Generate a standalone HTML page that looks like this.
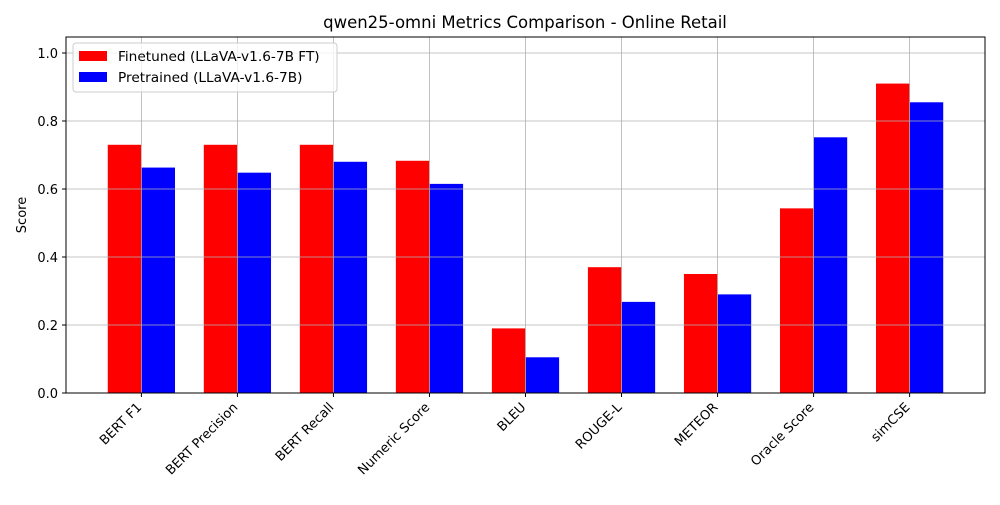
<!DOCTYPE html>
<html><head><meta charset="utf-8"><style>
body{margin:0;background:#fff;font-family:"Liberation Sans","DejaVu Sans",sans-serif}
</style></head><body>
<svg id="chart" width="1000" height="500" xmlns="http://www.w3.org/2000/svg" font-family="DejaVu Sans, Liberation Sans, sans-serif">
<rect width="1000" height="500" fill="#fff"/>
<text x="525" y="28" text-anchor="middle" font-size="16.5">qwen25-omni Metrics Comparison - Online Retail</text>
<text transform="translate(26,215) rotate(-90)" text-anchor="middle" font-size="13">Score</text>
<g id="grid"></g><g id="bars"></g><g id="axes"></g>
<rect x="66" y="37" width="919" height="356" fill="none" stroke="#000" stroke-width="1"/>
<g>
<rect x="73" y="43" width="264" height="49" rx="3" fill="#fff" fill-opacity="0.8" stroke="#ccc"/>
<rect x="79" y="51" width="28" height="10" fill="#ff0000"/>
<text x="118" y="61" font-size="13.7">Finetuned (LLaVA-v1.6-7B FT)</text>
<rect x="79" y="72" width="28" height="10" fill="#0000ff"/>
<text x="118" y="82" font-size="13.7">Pretrained (LLaVA-v1.6-7B)</text>
</g>
</svg>
<script>
const categories=["BERT F1","BERT Precision","BERT Recall","Numeric Score","BLEU","ROUGE-L","METEOR","Oracle Score","simCSE"];
const finetuned=[0.73,0.73,0.73,0.683,0.19,0.37,0.35,0.543,0.91];
const pretrained=[0.663,0.648,0.68,0.615,0.105,0.268,0.29,0.752,0.855];
const yTicks=[0,0.2,0.4,0.6,0.8,1.0];
const yTickLabels=["0.0","0.2","0.4","0.6","0.8","1.0"];
const NS="http://www.w3.org/2000/svg";
const L=66,R=985,T=37,B=393,yMax=1.047,xMin=-0.785,xMax=8.785;
const y=v=>B-(v/yMax)*(B-T);
const x=i=>L+(i-xMin)/(xMax-xMin)*(R-L);
const bw=0.35*(R-L)/(xMax-xMin);
function mk(tag,attrs,parent){const e=document.createElementNS(NS,tag);for(const k in attrs)e.setAttribute(k,attrs[k]);document.getElementById(parent).appendChild(e);return e;}
const grid=document.getElementById('grid');
categories.forEach((c,i)=>{
 const r=mk('rect',{x:x(i)-bw,y:y(finetuned[i]),width:bw,height:B-y(finetuned[i]),fill:'#ff0000'},'bars');
 
 
 const b=mk('rect',{x:x(i),y:y(pretrained[i]),width:bw,height:B-y(pretrained[i]),fill:'#0000ff'},'bars');
 
 
});
document.getElementById('chart').insertBefore(document.getElementById('bars'),grid);
categories.forEach((c,i)=>{
 const g=mk('line',{x1:x(i),x2:x(i),y1:T,y2:B,stroke:'#b0b0b0','stroke-width':0.8},'grid');
 
 
 mk('line',{x1:x(i),x2:x(i),y1:B,y2:B+4,stroke:'#000'},'axes');
 const t=mk('text',{transform:`translate(${x(i)+1},${B+15}) rotate(-45)`,'text-anchor':'end','font-size':13},'axes');
 
 
 t.textContent=c;
});
yTicks.forEach((v,k)=>{
 const g=mk('line',{x1:L,x2:R,y1:y(v),y2:y(v),stroke:'#b0b0b0','stroke-width':0.8},'grid');
 
 
 mk('line',{x1:L-4,x2:L,y1:y(v),y2:y(v),stroke:'#000'},'axes');
 const t=mk('text',{x:L-8,y:y(v)+5,'text-anchor':'end','font-size':13},'axes');
 
 
 t.textContent=yTickLabels[k];
});
</script>
</body></html>
